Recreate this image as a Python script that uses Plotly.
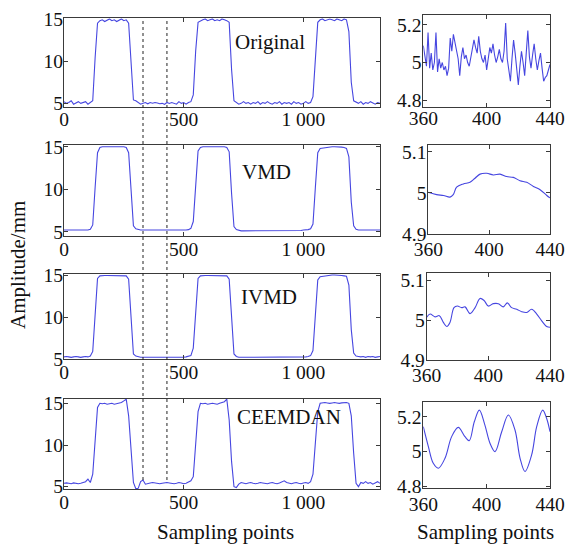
import plotly.graph_objects as go

# ---------------- data ----------------
# full records, one value every 10 sampling points (0 ... 1320)
sample_points = list(range(0, 1321, 10))

original = [
    5.2, 5.0, 5.1, 5.3, 4.9, 5.1, 5.2, 5.0, 5.1, 5.2, 4.9, 5.1,
    5.3, 10.4, 14.5,
    14.8, 14.9, 14.7, 14.9, 15.0, 14.8, 14.9, 14.7, 14.9, 15.0, 14.8, 14.9,
    14.5, 9.8, 5.4,
    5.3, 5.1, 4.9, 5.0, 5.1, 4.95, 5.09, 5.02, 5.10, 5.03, 4.96, 5.0,
    4.88, 5.10, 4.99, 5.1, 5.0, 4.9, 5.2, 5.0, 5.1, 4.9, 5.1, 5.2,
    6.0, 11.2, 14.6,
    14.8, 14.9, 15.0, 14.8, 14.9, 15.0, 14.8, 14.9, 14.8, 15.0, 14.9, 14.8,
    14.6, 9.0, 5.3,
    5.1, 4.9, 5.0, 5.2, 5.0, 5.1, 4.9, 5.1, 5.0, 5.2, 4.9, 5.1, 5.0, 5.2, 5.0, 4.9,
    5.1, 5.0, 5.2, 4.9, 5.1, 5.0, 5.1, 4.9, 5.2, 5.0, 5.1, 4.9, 5.0, 5.2, 5.0, 5.1,
    5.8, 10.8, 14.6,
    14.9, 15.0, 14.8, 14.9, 15.0, 14.9, 14.8, 15.0, 14.9, 14.8, 15.0, 14.9,
    13.5, 7.5, 5.3,
    5.1, 5.0, 5.2, 4.9, 5.1, 5.0, 5.2, 5.0, 4.9, 5.1, 5.0,
]

vmd = [
    5.2, 5.2, 5.15, 5.2, 5.2, 5.15, 5.2, 5.2, 5.15, 5.2, 5.2, 5.3,
    5.8, 10.2, 14.3,
    14.9, 15.0, 15.0, 15.0, 15.0, 15.0, 15.0, 15.0, 15.0, 15.0, 15.0, 14.9,
    14.3, 10.0, 5.7,
    5.35, 5.25, 5.2, 5.2, 5.2, 5.2, 5.15, 5.15, 5.15, 5.2, 5.2, 5.2,
    5.2, 5.15, 5.15, 5.15, 5.2, 5.2, 5.2, 5.2, 5.2, 5.2, 5.25, 5.4,
    6.2, 11.0, 14.5,
    14.9, 15.0, 15.0, 15.0, 15.0, 15.0, 15.0, 15.0, 15.0, 15.0, 15.0, 14.9,
    14.4, 9.5, 5.6,
    5.25, 5.15, 5.1, 5.1, 5.1, 5.1, 5.1, 5.1, 5.1, 5.1, 5.1, 5.1, 5.1, 5.1, 5.1, 5.1,
    5.1, 5.1, 5.1, 5.1, 5.1, 5.1, 5.1, 5.1, 5.1, 5.15, 5.15, 5.15, 5.2, 5.2, 5.25, 5.35,
    5.9, 10.2, 14.3,
    14.8, 14.85, 14.9, 14.95, 15.0, 15.0, 15.0, 15.0, 15.0, 14.95, 14.9, 14.8,
    13.8, 8.5, 5.7,
    5.3, 5.2, 5.2, 5.15, 5.15, 5.2, 5.2, 5.15, 5.15, 5.2, 5.2,
]

ivmd = [
    5.25, 5.3, 5.25, 5.2, 5.25, 5.3, 5.25, 5.2, 5.25, 5.3, 5.25, 5.35,
    5.9, 10.5, 14.6,
    14.9, 14.95, 14.95, 14.95, 14.95, 14.95, 14.95, 14.95, 14.95, 14.95, 14.95, 14.9,
    14.5, 10.0, 5.6,
    5.35, 5.25, 5.2, 5.2, 5.2, 5.2, 5.15, 5.15, 5.2, 5.2, 5.2, 5.2,
    5.2, 5.2, 5.15, 5.2, 5.2, 5.2, 5.2, 5.2, 5.2, 5.25, 5.3, 5.4,
    6.3, 11.2, 14.6,
    14.9, 14.95, 14.95, 14.95, 14.95, 14.95, 14.95, 14.95, 14.95, 14.95, 14.95, 14.9,
    14.5, 9.5, 5.6,
    5.3, 5.2, 5.2, 5.2, 5.2, 5.2, 5.2, 5.2, 5.2, 5.2, 5.2, 5.2, 5.2, 5.2, 5.2, 5.2,
    5.2, 5.2, 5.2, 5.2, 5.2, 5.2, 5.2, 5.2, 5.2, 5.2, 5.2, 5.2, 5.2, 5.25, 5.3, 5.4,
    6.0, 10.5, 14.4,
    14.8, 14.85, 14.9, 14.95, 15.0, 15.0, 15.0, 15.0, 14.95, 14.95, 14.9, 14.85,
    13.8, 8.5, 5.7,
    5.35, 5.3, 5.25, 5.3, 5.2, 5.3, 5.25, 5.3, 5.2, 5.25, 5.3,
]

ceemdan = [
    5.4, 5.45, 5.4, 5.35, 5.45, 5.4, 5.35, 5.4, 5.5, 5.6, 5.9, 5.5,
    6.5, 11.0, 14.5,
    15.0, 14.95, 15.0, 14.9, 14.95, 15.0, 14.9, 14.95, 15.0, 15.1, 15.3, 15.5,
    13.5, 9.0, 5.5,
    4.75, 4.8, 5.6, 5.8, 5.3, 5.4, 5.45, 5.5, 5.45, 5.4, 5.35, 5.4,
    5.45, 5.5, 5.45, 5.4, 5.35, 5.4, 5.5, 5.45, 5.35, 5.4, 5.55, 5.7,
    6.2, 10.0, 14.0,
    15.0, 14.95, 15.0, 14.9, 14.95, 15.0, 14.95, 14.9, 15.0, 15.1, 15.2, 15.5,
    13.0, 8.0, 5.0,
    4.9, 5.3, 5.5, 5.4, 5.35, 5.45, 5.5, 5.4, 5.35, 5.4, 5.5, 5.45, 5.4, 5.35, 5.45, 5.5,
    5.4, 5.35, 5.45, 5.6, 5.7, 5.5, 5.4, 5.35, 5.45, 5.5, 5.4, 5.35, 5.45, 5.5, 5.4, 5.6,
    6.5, 10.5, 14.0,
    15.0, 15.05, 15.1, 15.05, 15.0, 15.05, 15.1, 15.05, 15.0, 15.05, 15.1, 15.1,
    15.0, 13.5, 9.0,
    5.4, 5.0, 5.5, 5.4, 5.6, 5.4, 5.5, 5.3, 5.5, 5.6, 5.4,
]

# detail window 360 ... 440
orig_win_x = list(range(360, 441))
orig_win_y = [
    5.09, 5.02, 4.98, 5.16, 4.97, 5.05, 4.96, 5.00, 5.16, 4.95,
    5.02, 4.97, 5.00, 4.96, 4.98, 4.93, 4.97, 5.13, 5.06, 5.15,
    5.10, 5.07, 5.02, 4.93, 5.03, 5.08, 5.02, 5.04, 5.00, 4.98,
    5.03, 5.07, 5.12, 5.08, 5.05, 5.14, 5.06, 5.02, 5.00, 5.04,
    4.96, 5.02, 5.08, 5.05, 5.10, 5.04, 5.00, 5.03, 5.07, 5.02,
    5.00, 5.06, 5.21, 5.02, 4.96, 4.90, 5.02, 5.12, 5.05, 4.95,
    4.88, 4.98, 5.06, 5.00, 4.93, 5.05, 5.17, 5.03, 4.97, 5.04,
    5.10, 5.02, 4.96, 5.01, 5.05, 4.97, 4.90, 4.92, 4.93, 4.96,
    4.99,
]

vmd_win_x = [360, 365.5, 370, 374.3, 376.4, 378.6, 383, 387.4, 390.7, 394, 398.4,
             402.8, 407.1, 411.5, 415.9, 420.3, 424.7, 429.1, 433.5, 437.9, 440]
vmd_win_y = [5.002, 4.996, 4.994, 4.990, 4.996, 5.014, 5.022, 5.026, 5.036, 5.046, 5.048,
             5.044, 5.046, 5.040, 5.038, 5.030, 5.026, 5.016, 5.008, 4.994, 4.988]

ivmd_win_x = [360, 362.2, 365.4, 368.2, 370.8, 373, 375.1, 377.7, 379.9, 382.7, 384.9,
              388.1, 391.4, 394.6, 397.2, 400, 403.2, 406.5, 409.7, 412.3, 415.1,
              418.4, 421.6, 424.9, 428.1, 431.4, 434.6, 437.8, 440]
ivmd_win_y = [5.007, 5.015, 5.008, 5.011, 4.994, 4.984, 4.994, 5.031, 5.035, 5.031, 5.033,
              5.016, 5.031, 5.054, 5.049, 5.035, 5.041, 5.041, 5.033, 5.043, 5.031,
              5.027, 5.021, 5.019, 5.027, 5.015, 4.998, 4.984, 4.982]

ceemdan_win_x = [360, 363.2, 366.3, 369.5, 373.7, 377.9, 382.1, 386.3, 389, 392.2, 395.4,
                 398.9, 402.1, 405.3, 409.5, 413.7, 417.9, 421.1, 424.2, 428.4, 431.6,
                 435.4, 437.9, 440]
ceemdan_win_y = [5.143, 5.029, 4.933, 4.905, 4.962, 5.086, 5.139, 5.086, 5.063, 5.171, 5.238,
                 5.152, 5.048, 5.000, 5.114, 5.210, 5.124, 4.962, 4.886, 4.981, 5.143,
                 5.238, 5.190, 5.114]

method_names = ["Original", "VMD", "IVMD", "CEEMDAN"]
window_marks = [330, 430]

left_xticks = [0, 500, 1000]
left_xticktext = ["0", "500", "1 000"]
left_yticks = [5, 10, 15]
right_xticks = [360, 400, 440]
right_yticks = [[4.8, 5, 5.2], [4.9, 5, 5.1], [4.9, 5, 5.1], [4.8, 5, 5.2]]
right_yticktext = [["4.8", "5", "5.2"], ["4.9", "5", "5.1"], ["4.9", "5", "5.1"], ["4.8", "5", "5.2"]]

# ---------------- layout helpers ----------------
W, H = 572, 547
FONT = "Liberation Serif"
LINE = "#4646e0"
AX = "#3a3a3a"


def fx(p):
    return p / W


def fy(p):
    return 1 - p / H


left_px_x = (64, 380)
left_px_y = [(18.3, 107.3), (145, 236), (274, 359), (399, 489)]
right_px_x = [(423.3, 550), (428.3, 550), (426.7, 550), (423.3, 550)]
right_px_y = [(15, 107), (145, 234), (273.3, 360), (401.7, 488.3)]
left_yr = [[4.53, 15.08], [4.5, 15.2], [5.0, 15.12], [4.72, 15.52]]
right_yr = [[4.763, 5.253], [4.9, 5.117], [4.9, 5.117], [4.79, 5.286]]
x_label_shift = [-6, -4, -4, -4]
right_x_label_shift = [-6, -2, -2, -2]
label_px = [(270, 42), (266, 172), (269, 297), (289, 417)]

full_series = [original, vmd, ivmd, ceemdan]
win_series = [(orig_win_x, orig_win_y, "linear"), (vmd_win_x, vmd_win_y, "spline"),
              (ivmd_win_x, ivmd_win_y, "spline"), (ceemdan_win_x, ceemdan_win_y, "spline")]

fig = go.Figure()
layout = {}
axis_common = dict(
    showline=True, linecolor=AX, linewidth=1, mirror="ticks",
    ticks="inside", ticklen=4, tickcolor=AX, showgrid=False, zeroline=False,
    automargin=False,
    tickfont=dict(family=FONT, size=19.5, color="#111"),
)

for i in range(4):
    lx = 2 * i + 1
    rx = 2 * i + 2
    lname = "" if lx == 1 else str(lx)
    rname = str(rx)

    fig.add_trace(go.Scatter(
        x=sample_points, y=full_series[i], mode="lines",
        line=dict(color=LINE, width=1.1),
        xaxis="x" + lname, yaxis="y" + lname, showlegend=False,
    ))
    wx, wy, shape = win_series[i]
    fig.add_trace(go.Scatter(
        x=wx, y=wy, mode="lines",
        line=dict(color=LINE, width=1.1, shape=shape),
        xaxis="x" + rname, yaxis="y" + rname, showlegend=False,
    ))

    layout["xaxis" + lname] = dict(
        axis_common, domain=[fx(left_px_x[0]), fx(left_px_x[1])], range=[0, 1320],
        tickvals=left_xticks, ticktext=left_xticktext, anchor="y" + lname,
        ticklabelstandoff=x_label_shift[i],
    )
    layout["yaxis" + lname] = dict(
        axis_common, domain=[fy(left_px_y[i][1]), fy(left_px_y[i][0])], range=left_yr[i],
        tickvals=left_yticks, anchor="x" + lname, ticklabelstandoff=-4,
    )
    layout["xaxis" + rname] = dict(
        axis_common, domain=[fx(right_px_x[i][0]), fx(right_px_x[i][1])], range=[360, 440],
        tickvals=right_xticks, anchor="y" + rname, ticklabelstandoff=right_x_label_shift[i],
    )
    layout["yaxis" + rname] = dict(
        axis_common, domain=[fy(right_px_y[i][1]), fy(right_px_y[i][0])], range=right_yr[i],
        tickvals=right_yticks[i], ticktext=right_yticktext[i], anchor="x" + rname,
        ticklabelstandoff=-3,
    )

annotations = []
for i, name in enumerate(method_names):
    annotations.append(dict(
        x=fx(label_px[i][0]), y=fy(label_px[i][1]), xref="paper", yref="paper",
        text=name, showarrow=False, xanchor="center", yanchor="middle",
        font=dict(family=FONT, size=21, color="#111"),
    ))
annotations += [
    dict(x=fx(18), y=fy(265), xref="paper", yref="paper", text="Amplitude/mm",
         textangle=-90, showarrow=False, xanchor="center", yanchor="middle",
         font=dict(family=FONT, size=21, color="#111")),
    dict(x=fx(225), y=fy(532), xref="paper", yref="paper", text="Sampling points",
         showarrow=False, xanchor="center", yanchor="middle",
         font=dict(family=FONT, size=21, color="#111")),
    dict(x=fx(485), y=fy(532), xref="paper", yref="paper", text="Sampling points",
         showarrow=False, xanchor="center", yanchor="middle",
         font=dict(family=FONT, size=21, color="#111")),
]

shapes = [
    dict(type="line", xref="x", yref="paper", x0=m, x1=m, y0=fy(480), y1=fy(18.3),
         line=dict(color="#222", width=1, dash="dot"))
    for m in window_marks
]

fig.update_layout(
    width=W, height=H, margin=dict(l=0, r=0, t=0, b=0),
    paper_bgcolor="white", plot_bgcolor="white",
    annotations=annotations, shapes=shapes, **layout,
)

fig.write_html("out.html")
